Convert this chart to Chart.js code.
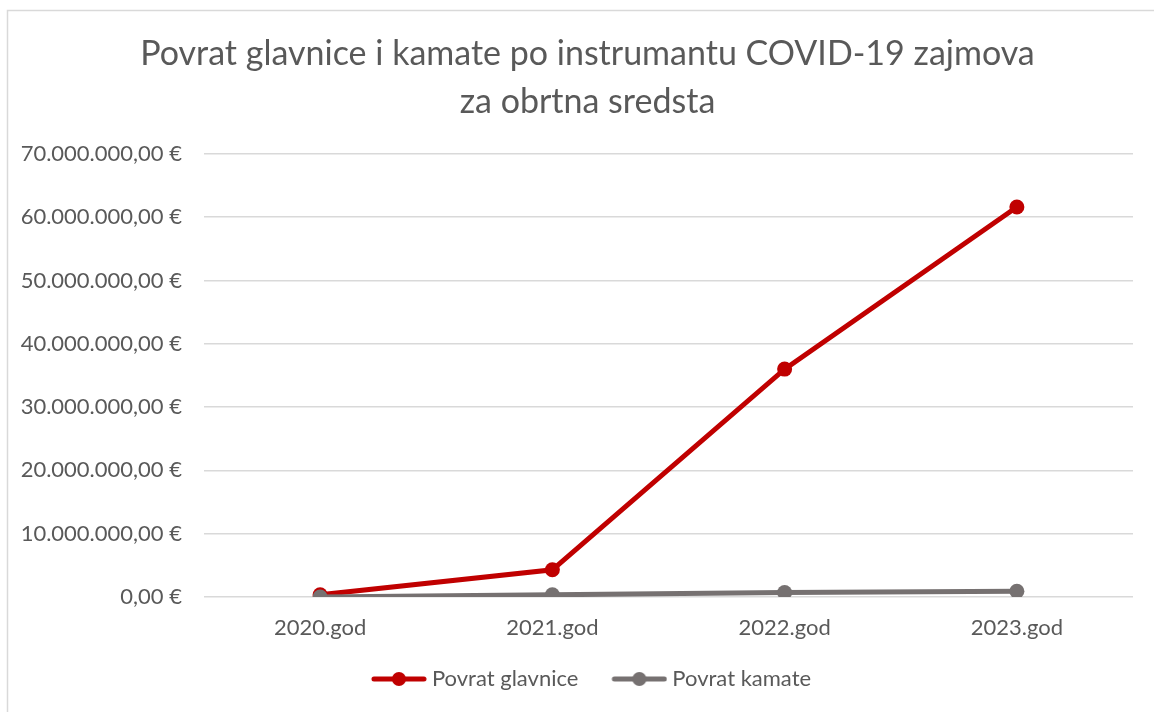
<!DOCTYPE html>
<html>
<head>
<meta charset="utf-8">
<script src="https://cdn.jsdelivr.net/npm/chart.js@4"></script>
<style>
html,body{margin:0;padding:0;background:#fff;}
#wrap{position:absolute;left:0;top:0;width:1154px;height:712px;}
</style>
</head>
<body>
<div id="wrap"><canvas id="c" width="1154" height="712"></canvas></div>
<script>
const categories = ["2020.god", "2021.god", "2022.god", "2023.god"];
const seriesNames = ["Povrat glavnice", "Povrat kamate"];
const glavnica = [350000, 4300000, 36000000, 61600000];
const kamate = [0, 350000, 720000, 900000];
const titleLines = ["Povrat glavnice i kamate po instrumantu COVID-19 zajmova", "za obrtna sredsta"];

const RED = "#c00000", GRAY = "#767171", TXT = "#595959", GRID = "#d9d9d9";
const FONT = "Lato";

function fmtEUR(v) {
  const neg = v < 0; v = Math.abs(v);
  let int = Math.floor(v).toString();
  int = int.replace(/\B(?=(\d{3})+(?!\d))/g, ".");
  let dec = Math.round((v - Math.floor(v)) * 100).toString().padStart(2, "0");
  return (neg ? "-" : "") + int + "," + dec + " €";
}

// legend icon: line with a dot, drawn with a transparent left margin
function legendIcon(color) {
  const off = 13;
  const cv = document.createElement("canvas");
  cv.width = 56 + off; cv.height = 16;
  const x = cv.getContext("2d");
  x.strokeStyle = color; x.lineWidth = 5; x.lineCap = "round";
  x.beginPath(); x.moveTo(off + 3, 8); x.lineTo(off + 53, 8); x.stroke();
  x.fillStyle = color; x.beginPath(); x.arc(off + 28, 8, 7, 0, Math.PI * 2); x.fill();
  return cv;
}

const frame = {
  id: "frame",
  beforeDraw(chart) {
    const ctx = chart.ctx;
    ctx.save();
    ctx.fillStyle = "#fff";
    ctx.fillRect(0, 0, chart.width, chart.height);
    ctx.strokeStyle = GRID; ctx.lineWidth = 1.5;
    ctx.strokeRect(7.5, 10.5, 1400, 1000);
    ctx.restore();
  }
};

new Chart(document.getElementById("c"), {
  type: "line",
  data: {
    labels: categories,
    datasets: [
      { label: seriesNames[0], data: glavnica, borderColor: RED, backgroundColor: RED,
        borderWidth: 5, pointRadius: 7.5, pointHoverRadius: 7.5, pointBorderWidth: 0,
        pointStyle: "circle", order: 1, tension: 0 },
      { label: seriesNames[1], data: kamate, borderColor: GRAY, backgroundColor: GRAY,
        borderWidth: 5, pointRadius: 7.5, pointHoverRadius: 7.5, pointBorderWidth: 0,
        pointStyle: "circle", order: 0, tension: 0 }
    ]
  },
  options: {
    responsive: false,
    animation: false,
    layout: { padding: { left: 21, right: 0, top: 0, bottom: 12 } },
    plugins: {
      title: {
        display: true, text: titleLines, color: TXT,
        font: { family: FONT, size: 34, weight: "normal", lineHeight: 1.41 },
        padding: { top: 30, bottom: 28 }
      },
      legend: {
        position: "bottom",
        labels: {
          usePointStyle: true, pointStyleWidth: 57, boxHeight: 16,
          color: TXT, font: { family: FONT, size: 22 }, padding: 26,
          generateLabels(chart) {
            return chart.data.datasets.map((d, i) => ({
              text: d.label, fillStyle: d.borderColor, strokeStyle: d.borderColor,
              lineWidth: 0, pointStyle: legendIcon(d.borderColor), datasetIndex: i,
              hidden: false, fontColor: TXT
            }));
          }
        }
      },
      tooltip: { enabled: false }
    },
    scales: {
      x: {
        offset: true,
        grid: { display: false, drawTicks: false },
        border: { display: false },
        ticks: { color: TXT, font: { family: FONT, size: 22 }, padding: 18 },
        afterFit(s) { s.height = 45; }
      },
      y: {
        min: 0, max: 70000000,
        grid: { color: GRID, lineWidth: 1.5, drawTicks: false },
        border: { display: false },
        ticks: { stepSize: 10000000, color: TXT, font: { family: FONT, size: 22 }, padding: 22,
          callback: v => fmtEUR(v) },
        afterFit(s) { s.width = 183; }
      },
      rightGap: {
        type: "linear", position: "right", display: true,
        grid: { display: false, drawTicks: false },
        border: { display: false },
        ticks: { display: false },
        afterFit(s) { s.width = 21; }
      }
    }
  },
  plugins: [frame]
});
</script>
</body>
</html>
